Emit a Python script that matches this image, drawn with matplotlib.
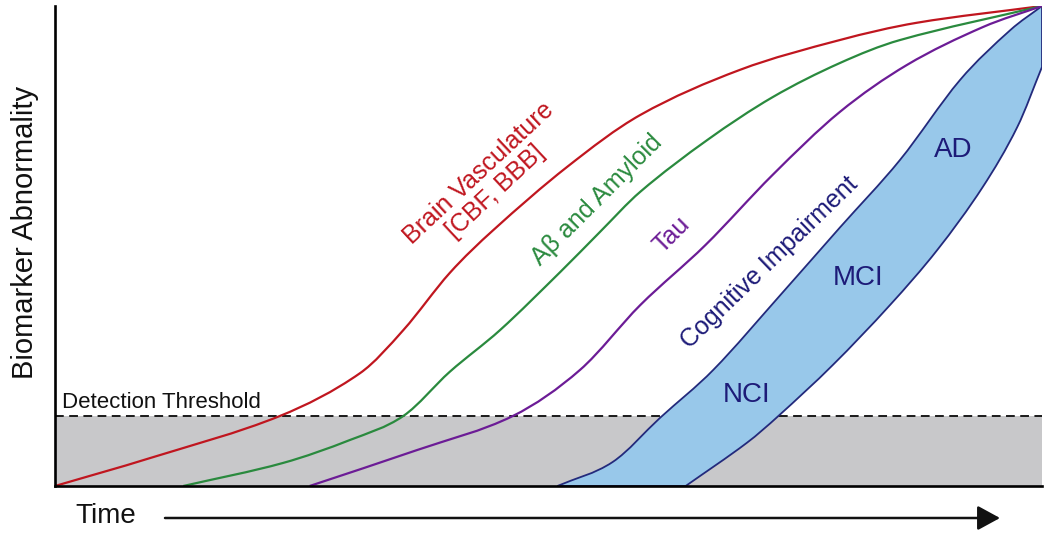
import numpy as np
import matplotlib
matplotlib.use("Agg")
import matplotlib.pyplot as plt
from matplotlib.path import Path
from matplotlib.patches import PathPatch

plt.rcParams['font.family'] = ['Liberation Sans', 'DejaVu Sans']

# curves: time (0-100) vs abnormality (0-100)
threshold = 14.6

red_t = [0, 9.6, 22.8, 30.9, 35.3, 40.0, 44.4, 51.9, 59.3, 69.4, 79.5, 87.3, 100]
red_a = [0, 5.8, 14.6, 23.5, 32.5, 44.4, 53.3, 66.5, 77.3, 86.7, 92.9, 96.5, 100]

green_t = [13.0, 23.1, 29.9, 35.3, 40.0, 45.1, 51.2, 55.2, 59.3, 66.1, 72.7, 79.5, 85.6, 100]
green_a = [0, 4.8, 9.6, 14.6, 23.8, 32.5, 44.6, 52.9, 61.3, 72.1, 81.0, 88.1, 92.9, 100]

tau_t = [25.8, 36.7, 46.4, 53.2, 59.3, 65.9, 72.7, 79.5, 86.3, 94.0, 100]
tau_a = [0, 7.5, 14.6, 24.2, 37.7, 50.2, 64.8, 77.9, 87.7, 95.6, 100]

cog_hi_t = [50.9, 56.5, 61.3, 66.7, 73.5, 79.5, 85.6, 91.7, 96.8, 100]
cog_hi_a = [0, 5.0, 14.2, 24.2, 39.8, 53.8, 67.9, 84.6, 95.0, 100]

cog_lo_t = [63.9, 70.1, 73.3, 78.8, 84.6, 89.4, 94.0, 97.5, 100]
cog_lo_a = [0, 9.0, 14.6, 25.2, 37.7, 49.2, 62.3, 74.8, 87.3]


def smooth(t, a):
    # cubic hermite in x through the read points, drawn as bezier segments
    x = np.asarray(t, float)
    y = np.asarray(a, float)
    n = len(x)
    m = np.empty(n)
    m[0] = (y[1] - y[0]) / (x[1] - x[0])
    m[-1] = (y[-1] - y[-2]) / (x[-1] - x[-2])
    m[1:-1] = (y[2:] - y[:-2]) / (x[2:] - x[:-2])
    verts = [(x[0], y[0])]
    codes = [Path.MOVETO]
    for i in range(n - 1):
        h = x[i + 1] - x[i]
        verts += [(x[i] + h / 3, y[i] + m[i] * h / 3),
                  (x[i + 1] - h / 3, y[i + 1] - m[i + 1] * h / 3),
                  (x[i + 1], y[i + 1])]
        codes += [Path.CURVE4] * 3
    return verts, codes


fig = plt.figure(figsize=(10.5, 5.36), dpi=100)
ax = fig.add_axes([55 / 1050, 50 / 536, 987 / 1050, 480 / 536])
ax.set_xlim(0, 100)
ax.set_ylim(0, 100)
ax.set_xticks([])
ax.set_yticks([])
for s in ['top', 'right']:
    ax.spines[s].set_visible(False)
for s in ['left', 'bottom']:
    ax.spines[s].set_linewidth(1.9)
    ax.spines[s].set_zorder(5)

ax.axhspan(0, threshold, color='#c8c8ca', lw=0, zorder=0)
ax.axhline(threshold, color='#1a1a1a', lw=1.4, ls=(0, (4.5, 2.8)), zorder=1)

# cognitive impairment band
v1, c1 = smooth(cog_hi_t, cog_hi_a)
v2, c2 = smooth(cog_lo_t, cog_lo_a)
v2 = v2[::-1]
c2[0] = Path.LINETO
verts = v1 + v2 + [v1[0]]
codes = c1 + c2 + [Path.CLOSEPOLY]
ax.add_patch(PathPatch(Path(verts, codes), facecolor='#98c8ea',
                       edgecolor='#232a7c', lw=1.3, zorder=2))

for t, a, col in [(red_t, red_a, '#c0161f'), (green_t, green_a, '#2a8a3e'),
                  (tau_t, tau_a, '#6c1c96')]:
    v, c = smooth(t, a)
    ax.add_patch(PathPatch(Path(v, c), fill=False, edgecolor=col, lw=1.6, zorder=3))

lab = dict(ha='center', va='center', rotation_mode='anchor', fontsize=18)
ax.text(43.8, 63.3, "Brain Vasculature\n[CBF, BBB]", color='#c0161f', rotation=43,
        multialignment='center', linespacing=1.05, **lab)
ax.text(54.9, 59.6, "Aβ and Amyloid", color='#2a8a3e', rotation=45, **lab)
ax.text(62.5, 52.3, "Tau", color='#6c1c96', rotation=45, **lab)
ax.text(72.4, 46.5, "Cognitive Impairment", color='#1d1b78', rotation=44, **lab)

ax.text(70.1, 19.0, "NCI", color='#1d1b78', fontsize=20, ha='center', va='center')
ax.text(81.4, 43.3, "MCI", color='#1d1b78', fontsize=20, ha='center', va='center')
ax.text(91.0, 70.0, "AD", color='#1d1b78', fontsize=20, ha='center', va='center')

ax.text(0.7, 16.3, "Detection Threshold", color='#111111', fontsize=16,
        ha='left', va='baseline')

fig.text(25 / 1050, (536 - 232) / 536, "Biomarker Abnormality", rotation=90,
         fontsize=21, ha='center', va='center', color='#111111')
fig.text(75 / 1050, (536 - 516) / 536, "Time", fontsize=20, ha='left',
         va='center', color='#111111')
ax.annotate('', xy=(1000, 18), xytext=(165, 18), xycoords='figure pixels',
            textcoords='figure pixels',
            arrowprops=dict(arrowstyle='-|>,head_length=0.55,head_width=0.3',
                            mutation_scale=25, lw=1.8, color='#111111',
                            shrinkA=0, shrinkB=0))

fig.savefig('out.png', dpi=100)
